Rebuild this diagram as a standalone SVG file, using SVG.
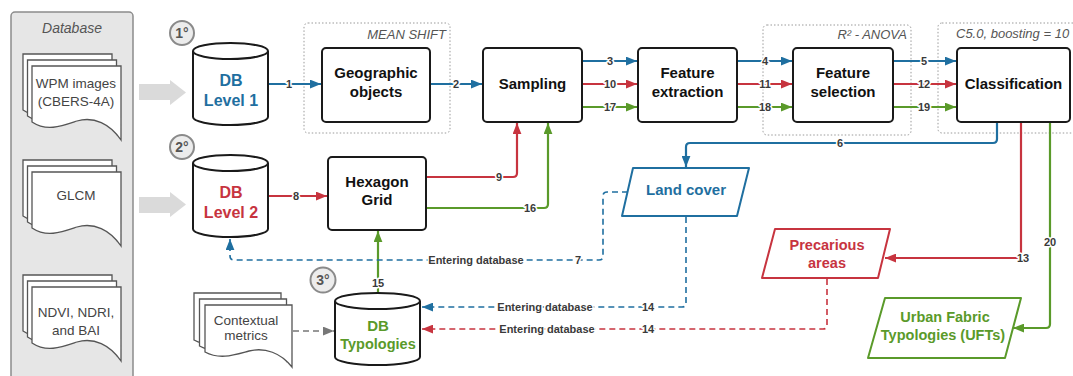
<svg xmlns="http://www.w3.org/2000/svg" width="1073" height="376" viewBox="0 0 1073 376">
<defs>
<style>
.panel{fill:#e6e6e6;stroke:#8c8c8c;stroke-width:1.5}
.sheet{fill:#fff;stroke:#555;stroke-width:1.3}
.doct{font-family:"Liberation Sans",Arial,sans-serif;font-size:13.5px;fill:#444;text-anchor:middle}
.blk{fill:#dadada}
.box{fill:#fff;stroke:#1a1a1a;stroke-width:2}
.grp{fill:none;stroke:#9a9a9a;stroke-width:1;stroke-dasharray:1.5 2}
.grpt{font-family:"Liberation Sans",Arial,sans-serif;font-size:13px;font-style:italic;fill:#555}
.nt{font-family:"Liberation Sans",Arial,sans-serif;font-size:15px;font-weight:bold;fill:#111;text-anchor:middle}
.dbt{font-family:"Liberation Sans",Arial,sans-serif;font-size:16px;font-weight:bold;text-anchor:middle}
.circ{fill:#ececec;stroke:#8a8a8a;stroke-width:2}
.ct{font-family:"Liberation Sans",Arial,sans-serif;font-size:14px;font-weight:bold;fill:#555;text-anchor:middle}
.ln{fill:none;stroke-width:2.2;stroke-linejoin:round}
.b{stroke:#1f6fa0}
.r{stroke:#c7343f}
.g{stroke:#5a9a2a}
.d{stroke-dasharray:6 4;stroke-width:1.6}
.lb{font-family:"Liberation Sans",Arial,sans-serif;font-size:11px;font-weight:bold;fill:#3a3a3a;text-anchor:middle;stroke:#fff;stroke-width:3;paint-order:stroke;stroke-linejoin:round}
</style>
<marker id="ab" viewBox="0 0 10 8" refX="10" refY="4" markerWidth="11" markerHeight="9" markerUnits="userSpaceOnUse" orient="auto"><path d="M0,0 L10,4 L0,8 Z" fill="#1f6fa0"/></marker>
<marker id="ar" viewBox="0 0 10 8" refX="10" refY="4" markerWidth="11" markerHeight="9" markerUnits="userSpaceOnUse" orient="auto"><path d="M0,0 L10,4 L0,8 Z" fill="#c7343f"/></marker>
<marker id="ag" viewBox="0 0 10 8" refX="10" refY="4" markerWidth="11" markerHeight="9" markerUnits="userSpaceOnUse" orient="auto"><path d="M0,0 L10,4 L0,8 Z" fill="#5a9a2a"/></marker>
<marker id="ak" viewBox="0 0 10 8" refX="10" refY="4" markerWidth="11" markerHeight="9" markerUnits="userSpaceOnUse" orient="auto"><path d="M0,0 L10,4 L0,8 Z" fill="#777"/></marker>
<path id="doc" d="M0,0 H89 V74 C78,58 62,50 45,55 C30,60 15,66 0,56 Z"/>
<path id="doc2" d="M0,0 H87 V62 C76,48 60,42 44,46 C29,50 15,55 0,47 Z"/>
</defs>
<rect width="1073" height="376" fill="#fff"/>

<g id="database">
<rect class="panel" x="11" y="12" width="122" height="380" rx="4"/>
<text x="72" y="33" class="grpt" style="font-size:14px" text-anchor="middle">Database</text>
</g>

<g id="doc-wpm">
<use href="#doc" class="sheet" x="23" y="54"/>
<use href="#doc" class="sheet" x="27.5" y="60"/>
<use href="#doc" class="sheet" x="32" y="66"/>
<text class="doct" x="76" y="88">WPM images</text>
<text class="doct" x="76" y="106">(CBERS-4A)</text>
</g>
<g id="doc-glcm">
<use href="#doc" class="sheet" x="23" y="160"/>
<use href="#doc" class="sheet" x="27.5" y="166"/>
<use href="#doc" class="sheet" x="32" y="172"/>
<text class="doct" x="76" y="200">GLCM</text>
</g>
<g id="doc-ndvi">
<use href="#doc" class="sheet" x="23" y="275"/>
<use href="#doc" class="sheet" x="27.5" y="281"/>
<use href="#doc" class="sheet" x="32" y="287"/>
<text class="doct" x="76" y="317">NDVI, NDRI,</text>
<text class="doct" x="76" y="335">and BAI</text>
</g>

<g id="block-arrows">
<polygon class="blk" points="139,84 170,84 170,80 186,92.5 170,105 170,100 139,100"/>
<polygon class="blk" points="139,197 170,197 170,192 186,204.5 170,217 170,213 139,213"/>
</g>

<g id="groups">
<rect class="grp" x="304" y="23" width="146" height="110" rx="4"/>
<text class="grpt" x="446" y="39" text-anchor="end">MEAN SHIFT</text>
<rect class="grp" x="763" y="25" width="148" height="110" rx="4"/>
<text class="grpt" x="907" y="39" text-anchor="end">R² - ANOVA</text>
<rect class="grp" x="938" y="23" width="145" height="110" rx="4"/>
<text class="grpt" x="956" y="38">C5.0, boosting = 10</text>
</g>

<g id="connectors">
<path class="ln b" d="M268,84 H321" marker-end="url(#ab)"/>
<path class="ln b" d="M430,84 H482" marker-end="url(#ab)"/>
<path class="ln b" d="M582,61 H637" marker-end="url(#ab)"/>
<path class="ln r" d="M582,84 H637" marker-end="url(#ar)"/>
<path class="ln g" d="M582,107 H637" marker-end="url(#ag)"/>
<path class="ln b" d="M737,61 H792" marker-end="url(#ab)"/>
<path class="ln r" d="M737,84 H792" marker-end="url(#ar)"/>
<path class="ln g" d="M737,107 H792" marker-end="url(#ag)"/>
<path class="ln b" d="M893,61 H956" marker-end="url(#ab)"/>
<path class="ln r" d="M893,84 H956" marker-end="url(#ar)"/>
<path class="ln g" d="M893,107 H956" marker-end="url(#ag)"/>
<path class="ln b" d="M997,122 V139 Q997,143 993,143 H690 Q686,143 686,147 V167" marker-end="url(#ab)"/>
<path class="ln r" d="M1021,122 V254 Q1021,258 1017,258 H885" marker-end="url(#ar)"/>
<path class="ln g" d="M1050,122 V324 Q1050,328 1046,328 H1013" marker-end="url(#ag)"/>
<path class="ln r" d="M268,196 H327" marker-end="url(#ar)"/>
<path class="ln r" d="M426,177 H513 Q517,177 517,173 V123" marker-end="url(#ar)"/>
<path class="ln g" d="M426,208 H544 Q548,208 548,204 V123" marker-end="url(#ag)"/>
<path class="ln g" d="M378,293 V231" marker-end="url(#ag)"/>
<path class="ln b d" d="M628,192 H607 Q603,192 603,196 V256 Q603,260 599,260 H234 Q230,260 230,256 V239" marker-end="url(#ab)"/>
<path class="ln b d" d="M686,217 V303 Q686,307 682,307 H422" marker-end="url(#ab)"/>
<path class="ln r d" d="M827,279 V325 Q827,329 823,329 H422" marker-end="url(#ar)"/>
<path class="ln d" style="stroke:#777" d="M293,331 H334" marker-end="url(#ak)"/>
<text class="lb" x="289" y="88">1</text>
<text class="lb" x="456" y="88">2</text>
<text class="lb" x="610" y="65">3</text>
<text class="lb" x="610" y="88">10</text>
<text class="lb" x="610" y="111">17</text>
<text class="lb" x="765" y="65">4</text>
<text class="lb" x="765" y="88">11</text>
<text class="lb" x="765" y="111">18</text>
<text class="lb" x="924" y="65">5</text>
<text class="lb" x="924" y="88">12</text>
<text class="lb" x="924" y="111">19</text>
<text class="lb" x="840" y="147">6</text>
<text class="lb" x="1023" y="262">13</text>
<text class="lb" x="1050" y="246">20</text>
<text class="lb" x="296" y="200">8</text>
<text class="lb" x="499" y="181">9</text>
<text class="lb" x="530" y="212">16</text>
<text class="lb" x="378" y="287">15</text>
<text class="lb" x="476" y="264">Entering database</text>
<text class="lb" x="578" y="264">7</text>
<text class="lb" x="545" y="311">Entering database</text>
<text class="lb" x="648" y="311">14</text>
<text class="lb" x="547" y="333">Entering database</text>
<text class="lb" x="648" y="333">14</text>
</g>

<g id="step1"><circle class="circ" cx="182" cy="33" r="12"/><text class="ct" x="182" y="38">1°</text></g>
<g id="step2"><circle class="circ" cx="182" cy="147" r="12"/><text class="ct" x="182" y="152">2°</text></g>
<g id="step3"><circle class="circ" cx="323" cy="280" r="12.5"/><text class="ct" x="323" y="285">3°</text></g>

<g id="db-level1">
<path class="box" d="M193,51 A37.5,8 0 0 1 268,51 V117 A37.5,8 0 0 1 193,117 Z M193,51 A37.5,8 0 0 0 268,51"/>
<text class="dbt" x="231" y="86" fill="#1f6fa0">DB</text>
<text class="dbt" x="231" y="106" fill="#1f6fa0">Level 1</text>
</g>
<g id="db-level2">
<path class="box" d="M193,163 A37.5,8 0 0 1 268,163 V229 A37.5,8 0 0 1 193,229 Z M193,163 A37.5,8 0 0 0 268,163"/>
<text class="dbt" x="231" y="198" fill="#c7343f">DB</text>
<text class="dbt" x="231" y="218" fill="#c7343f">Level 2</text>
</g>
<g id="db-typologies">
<path class="box" d="M335,301 A42.5,8 0 0 1 420,301 V357 A42.5,8 0 0 1 335,357 Z M335,301 A42.5,8 0 0 0 420,301"/>
<text class="dbt" x="378" y="331" fill="#5a9a2a" style="font-size:15px">DB</text>
<text class="dbt" x="378" y="349" fill="#5a9a2a" style="font-size:14.5px">Typologies</text>
</g>

<g id="geographic-objects">
<rect class="box" x="322" y="48" width="108" height="74" rx="4"/>
<text class="nt" x="376" y="78">Geographic</text>
<text class="nt" x="376" y="97">objects</text>
</g>
<g id="sampling">
<rect class="box" x="483" y="48" width="99" height="74" rx="4"/>
<text class="nt" x="532.5" y="89">Sampling</text>
</g>
<g id="feature-extraction">
<rect class="box" x="638" y="48" width="99" height="74" rx="4"/>
<text class="nt" x="687.5" y="78">Feature</text>
<text class="nt" x="687.5" y="97">extraction</text>
</g>
<g id="feature-selection">
<rect class="box" x="793" y="48" width="100" height="74" rx="4"/>
<text class="nt" x="843" y="78">Feature</text>
<text class="nt" x="843" y="97">selection</text>
</g>
<g id="classification">
<rect class="box" x="957" y="48" width="113" height="74" rx="4"/>
<text class="nt" x="1013.5" y="89">Classification</text>
</g>
<g id="hexagon-grid">
<rect class="box" x="328" y="157" width="98" height="73" rx="4"/>
<text class="nt" x="377" y="187">Hexagon</text>
<text class="nt" x="377" y="205">Grid</text>
</g>

<g id="land-cover">
<polygon points="633,168 749,168 737,216 622,216" fill="#fff" stroke="#1f6fa0" stroke-width="2" stroke-linejoin="round"/>
<text class="nt" x="686" y="195" style="fill:#1f6fa0">Land cover</text>
</g>
<g id="precarious-areas">
<polygon points="775,229 890,229 878,278 762,278" fill="#fff" stroke="#c7343f" stroke-width="2" stroke-linejoin="round"/>
<text class="nt" x="827" y="250" style="fill:#c7343f;font-size:14.5px">Precarious</text>
<text class="nt" x="827" y="268" style="fill:#c7343f;font-size:14.5px">areas</text>
</g>
<g id="ufts">
<polygon points="885,298 1021,298 1005,358 868,358" fill="#fff" stroke="#5a9a2a" stroke-width="2" stroke-linejoin="round"/>
<text class="nt" x="945" y="322" style="fill:#5a9a2a;font-size:14.5px">Urban Fabric</text>
<text class="nt" x="943" y="340" style="fill:#5a9a2a;font-size:14.5px">Typologies (UFTs)</text>
</g>

<g id="contextual-metrics">
<use href="#doc2" class="sheet" x="194" y="293"/>
<use href="#doc2" class="sheet" x="199.5" y="299"/>
<use href="#doc2" class="sheet" x="205" y="305"/>
<text class="doct" x="246" y="325">Contextual</text>
<text class="doct" x="246" y="340">metrics</text>
</g>
</svg>
